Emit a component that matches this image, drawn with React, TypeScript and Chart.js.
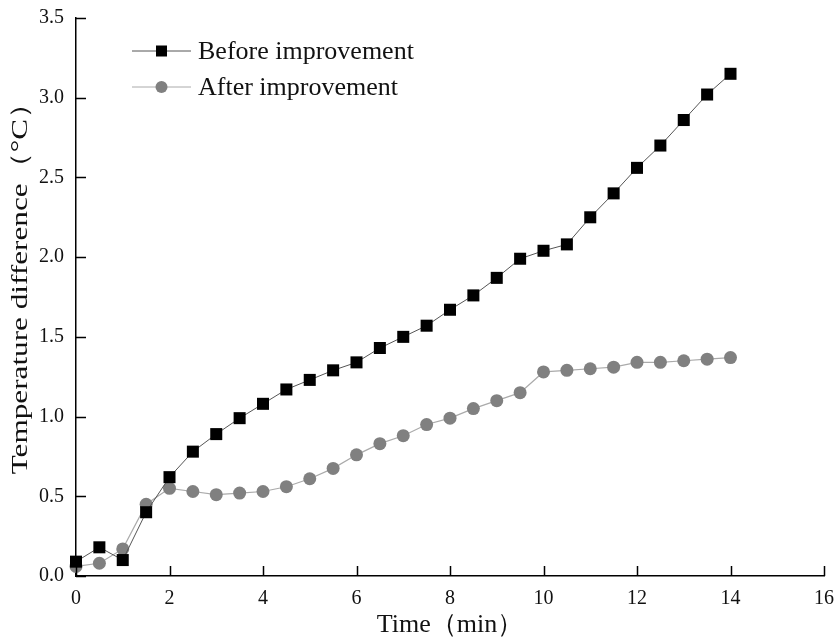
import React, { useEffect, useRef } from 'react';
import { Chart, registerables } from 'chart.js';

Chart.register(...registerables);

const timeMin = [0, 0.5, 1, 1.5, 2, 2.5, 3, 3.5, 4, 4.5, 5, 5.5, 6, 6.5, 7, 7.5, 8, 8.5, 9, 9.5, 10, 10.5, 11, 11.5, 12, 12.5, 13, 13.5, 14];
const beforeImprovement = [0.09, 0.18, 0.1, 0.4, 0.62, 0.78, 0.89, 0.99, 1.08, 1.17, 1.23, 1.29, 1.34, 1.43, 1.5, 1.57, 1.67, 1.76, 1.87, 1.99, 2.04, 2.08, 2.25, 2.4, 2.56, 2.7, 2.86, 3.02, 3.15];
const afterImprovement = [0.06, 0.08, 0.17, 0.45, 0.55, 0.53, 0.51, 0.52, 0.53, 0.56, 0.61, 0.675, 0.76, 0.83, 0.88, 0.95, 0.99, 1.05, 1.1, 1.15, 1.28, 1.29, 1.3, 1.31, 1.34, 1.34, 1.35, 1.36, 1.37];
const xTicks = [0, 2, 4, 6, 8, 10, 12, 14, 16];
const yTicks = [0, 0.5, 1, 1.5, 2, 2.5, 3, 3.5];
const seriesNames = ['Before improvement', 'After improvement'];
const xTitle = 'Time（min）';
const yTitle = 'Temperature difference（°C）';

const SERIF = "'Liberation Serif', 'Times New Roman', serif";

const innerTicks = {
  id: 'innerTicks',
  afterDatasetsDraw(chart: any) {
    const { ctx, chartArea, scales } = chart;
    ctx.save();
    ctx.strokeStyle = '#000';
    ctx.lineWidth = 1.5;
    ctx.beginPath();
    xTicks.forEach((v) => {
      const px = Math.round(scales.x.getPixelForValue(v)) + 0.5;
      ctx.moveTo(px, chartArea.bottom);
      ctx.lineTo(px, chartArea.bottom - 10);
    });
    yTicks.forEach((v) => {
      const py = Math.round(scales.y.getPixelForValue(v)) + 0.5;
      ctx.moveTo(chartArea.left, py);
      ctx.lineTo(chartArea.left + 10, py);
    });
    ctx.stroke();
    ctx.restore();
  },
};

const yAxisTitle = {
  id: 'yAxisTitle',
  afterDraw(chart: any) {
    const { ctx, chartArea } = chart;
    ctx.save();
    ctx.font = `24px ${SERIF}`;
    ctx.fillStyle = '#111';
    ctx.textAlign = 'center';
    ctx.textBaseline = 'middle';
    const cy = (chartArea.top + chartArea.bottom) / 2 - 16;
    ctx.translate(21, cy);
    ctx.rotate(-Math.PI / 2);
    ctx.scale(1.3, 1);
    ctx.fillText(yTitle, 0, 0);
    ctx.restore();
  },
};

const insideLegend = {
  id: 'insideLegend',
  afterDraw(chart: any) {
    const { ctx } = chart;
    ctx.save();
    chart.data.datasets.forEach((ds: any, i: number) => {
      const y = 51 + i * 36;
      ctx.strokeStyle = ds.borderColor;
      ctx.lineWidth = 1;
      ctx.beginPath();
      ctx.moveTo(132, y);
      ctx.lineTo(191, y);
      ctx.stroke();
      ctx.fillStyle = ds.pointBackgroundColor;
      if (ds.pointStyle === 'rect') {
        ctx.fillRect(156, y - 5.5, 11, 11);
      } else {
        ctx.beginPath();
        ctx.arc(161.5, y, 6, 0, Math.PI * 2);
        ctx.fill();
      }
      ctx.fillStyle = '#111';
      ctx.font = `26px ${SERIF}`;
      ctx.textBaseline = 'middle';
      ctx.textAlign = 'left';
      ctx.fillText(ds.label, 198, y + 1);
    });
    ctx.restore();
  },
};

export default function App() {
  const ref = useRef<HTMLCanvasElement>(null);

  useEffect(() => {
    if (!ref.current) return;
    const chart = new Chart(ref.current, {
      type: 'line',
      data: {
        datasets: [
          {
            label: seriesNames[0],
            data: timeMin.map((t, i) => ({ x: t, y: beforeImprovement[i] })),
            borderColor: '#555',
            borderWidth: 1,
            pointStyle: 'rect',
            pointRadius: 8.5,
            pointHoverRadius: 8.5,
            pointBackgroundColor: '#000',
            pointBorderColor: '#000',
            pointBorderWidth: 0,
            clip: false as any,
          },
          {
            label: seriesNames[1],
            data: timeMin.map((t, i) => ({ x: t, y: afterImprovement[i] })),
            borderColor: '#aaa',
            borderWidth: 1.2,
            pointStyle: 'circle',
            pointRadius: 6.5,
            pointHoverRadius: 6.5,
            pointBackgroundColor: '#808080',
            pointBorderColor: '#808080',
            pointBorderWidth: 0,
            clip: false as any,
          },
        ],
      },
      options: {
        animation: false,
        responsive: false,
        events: [],
        layout: { padding: { left: 0, right: 15, top: 18, bottom: 0 } },
        plugins: {
          legend: { display: false },
          tooltip: { enabled: false },
        },
        scales: {
          x: {
            type: 'linear',
            min: 0,
            max: 16,
            afterBuildTicks: (scale: any) => {
              scale.ticks = xTicks.map((v) => ({ value: v }));
            },
            afterFit: (scale: any) => {
              scale.height = 65;
              scale.paddingLeft = 0;
              scale.paddingRight = 0;
            },
            grid: { display: false, drawTicks: false },
            border: { display: true, color: '#000', width: 1.5 },
            ticks: {
              color: '#111',
              font: { family: SERIF, size: 20 },
              padding: 11,
              maxRotation: 0,
              callback: (v: any) => String(v),
            },
            title: {
              display: true,
              text: xTitle,
              color: '#111',
              font: { family: SERIF, size: 26 },
              padding: { top: 0, bottom: 0 },
            },
          },
          y: {
            type: 'linear',
            min: 0,
            max: 3.5,
            afterBuildTicks: (scale: any) => {
              scale.ticks = yTicks.map((v) => ({ value: v }));
            },
            afterFit: (scale: any) => {
              scale.width = 76;
              scale.paddingTop = 0;
              scale.paddingBottom = 0;
            },
            grid: { display: false, drawTicks: false },
            border: { display: true, color: '#000', width: 1.5 },
            ticks: {
              color: '#111',
              font: { family: SERIF, size: 20 },
              padding: 12,
              callback: (v: any) => Number(v).toFixed(1),
            },
            title: { display: false },
          },
        },
      },
      plugins: [innerTicks, insideLegend, yAxisTitle],
    });
    return () => chart.destroy();
  }, []);

  return (
    <div style={{ position: 'fixed', left: 0, top: 0, width: 839, height: 641, background: '#fff' }}>
      <canvas ref={ref} width={839} height={641} style={{ display: 'block', width: 839, height: 641 }} />
    </div>
  );
}
